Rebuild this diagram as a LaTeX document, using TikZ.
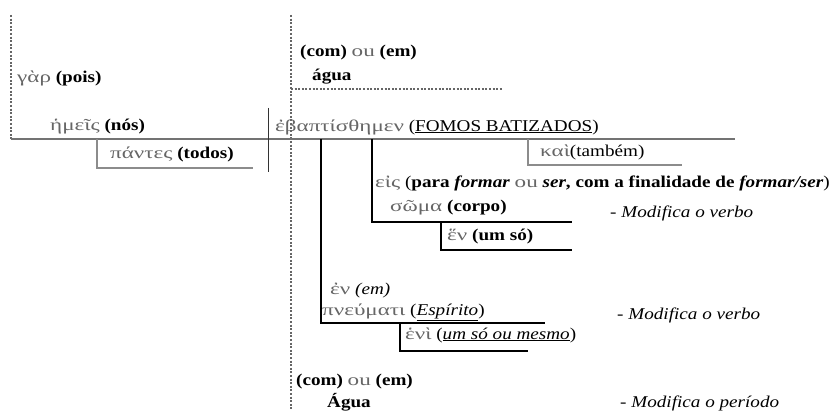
\documentclass[tikz,border=0pt]{standalone}
\usepackage{fontspec}
\setmainfont{Liberation Serif}[FakeStretch=1.16]
\newfontfamily\gkfont{Liberation Serif}[FakeStretch=1.4]
\newcommand{\gk}[1]{{\gkfont\color{black!60}#1}}
\begin{document}
\begin{tikzpicture}[x=1pt,y=-1pt,
  txt/.style={anchor=west,inner sep=0pt,font=\fontsize{16.5}{19}\selectfont},
  dotline/.style={black!60,dash pattern=on 2pt off 1.6pt,line width=1.1pt},
  mainline/.style={black!55,line width=1.6pt},
  graybox/.style={black!45,line width=1.8pt},
  thick line/.style={black,line width=2.6pt},
  sepline/.style={black!80,line width=0.9pt}]
\useasboundingbox (0,0) rectangle (834,411);
\fill[white] (0,0) rectangle (834,411);
% coordinates
\coordinate (d1t) at (11,15); \coordinate (d1b) at (11,139);
\coordinate (d2t) at (291,15); \coordinate (d2b) at (291,411);
\coordinate (mL) at (11,139); \coordinate (mR) at (735,139);
\coordinate (sT) at (268,108); \coordinate (sB) at (268,172);
\coordinate (pA) at (97,139); \coordinate (pB) at (97,168); \coordinate (pC) at (253,168);
\coordinate (hA) at (291,89); \coordinate (hB) at (503,89);
\coordinate (kA) at (528,139); \coordinate (kB) at (528,165); \coordinate (kC) at (682,165);
\coordinate (v1A) at (321,139); \coordinate (v1B) at (321,323); \coordinate (v1C) at (545,323);
\coordinate (eA) at (400,323); \coordinate (eB) at (400,351); \coordinate (eC) at (528,351);
\coordinate (v2A) at (372,139); \coordinate (v2B) at (372,222); \coordinate (v2C) at (572,222);
\coordinate (uA) at (441,222); \coordinate (uB) at (441,250); \coordinate (uC) at (572,250);
% lines
\draw[dotline] (d1t) -- (d1b);
\draw[dotline] (d2t) -- (d2b);
\draw[dotline] (hA) -- (hB);
\draw[mainline] (mL) -- (mR);
\draw[sepline] (sT) -- (sB);
\draw[graybox] (pA) -- (pB) -- (pC);
\draw[graybox] (kA) -- (kB) -- (kC);
\draw[thick line] (v1A) -- (v1B) -- (v1C);
\draw[thick line] (eA) -- (eB) -- (eC);
\draw[thick line] (v2A) -- (v2B) -- (v2C);
\draw[thick line] (uA) -- (uB) -- (uC);
% texts
\node[txt] (gar) at (17,78) {\gk{γὰρ} \textbf{(pois)}};
\node[txt] (hemeis) at (50,127) {\gk{ἡμεῖς} \textbf{(nós)}};
\node[txt] (pantes) at (110,154) {\gk{πάντες} \textbf{(todos)}};
\node[txt] (com1) at (300,53) {\textbf{(com)} \gk{ou} \textbf{(em)}};
\node[txt] (agua1) at (312,77) {\textbf{água}};
\node[txt] (verb) at (275,127) {\gk{ἐβαπτίσθημεν} (\underline{FOMOS BATIZADOS})};
\node[txt] (kai) at (540,152) {\gk{καὶ}(também)};
\node[txt] (eis) at (375,183) {\gk{εἰς} (\textbf{para \textit{formar}} \gk{ou} \textbf{\textit{ser}, com a finalidade de \textit{formar/ser}})};
\node[txt] (soma) at (390,208) {\gk{σῶμα} \textbf{(corpo)}};
\node[txt] (hen) at (447,237) {\gk{ἕν} \textbf{(um só)}};
\node[txt] (mod1) at (610,213) {\textit{- Modifica o verbo}};
\node[txt] (en) at (330,291) {\gk{ἐν} \textit{(em)}};
\node[txt] (pneumati) at (322,312) {\gk{πνεύματι} (\underline{\textit{Espírito}})};
\node[txt] (mod2) at (617,315) {\textit{- Modifica o verbo}};
\node[txt] (heni) at (405,335) {\gk{ἑνὶ} (\underline{\textit{um só ou mesmo}})};
\node[txt] (com2) at (296,382) {\textbf{(com)} \gk{ou} \textbf{(em)}};
\node[txt] (agua2) at (327,402) {\textbf{Água}};
\node[txt] (mod3) at (620,403) {\textit{- Modifica o período}};
\end{tikzpicture}
\end{document}
